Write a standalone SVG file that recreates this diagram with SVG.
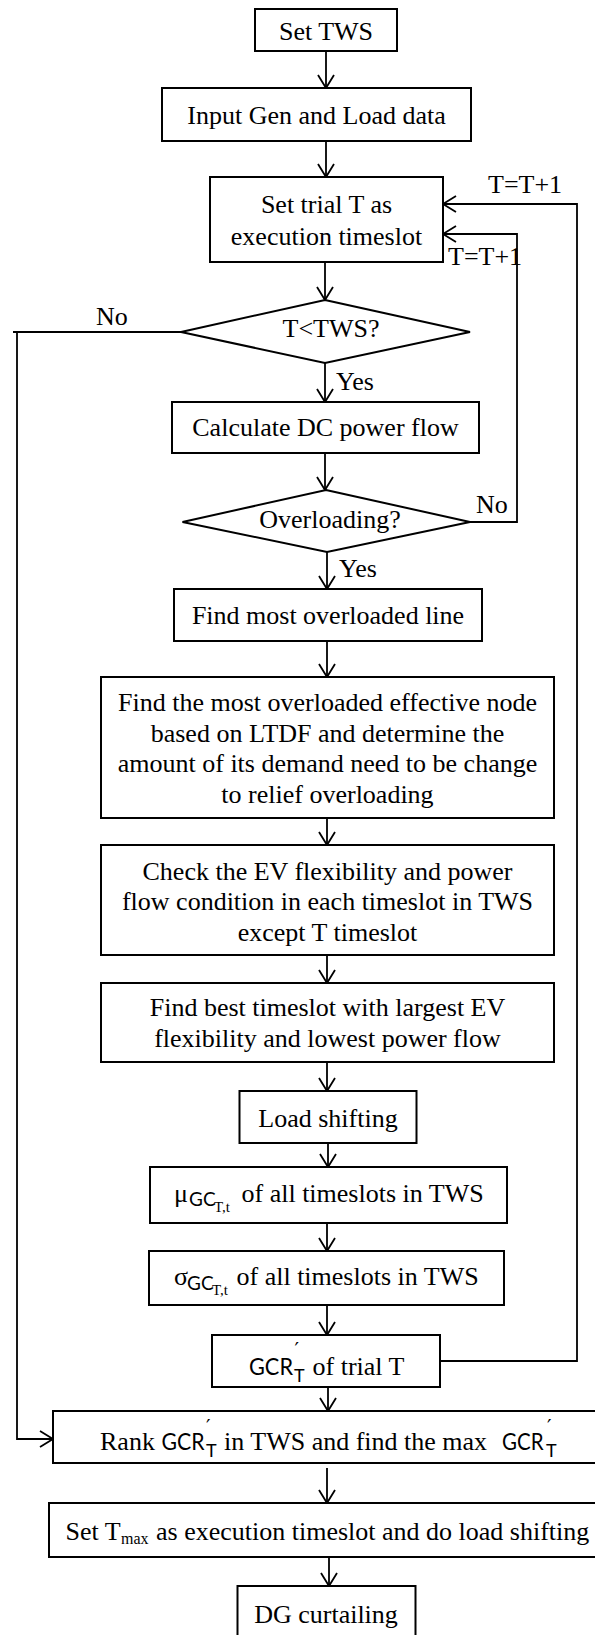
<svg xmlns="http://www.w3.org/2000/svg" width="595" height="1635" viewBox="0 0 595 1635">
<style>
.box{fill:#fff;stroke:#000;stroke-width:2}
.con{fill:none;stroke:#000;stroke-width:1.8}
.t{font-family:"Liberation Serif","Times New Roman",serif;font-size:26px;fill:#000}
.c{text-anchor:middle}
.s{font-family:Lato,"Open Sans","Liberation Sans",sans-serif;fill:#000}
.sm{font-family:"Liberation Serif","Times New Roman",serif;fill:#000}
.pr{font-family:"DejaVu Sans",sans-serif;font-size:20px;fill:#000}
</style>
<defs>
<marker id="arr" markerUnits="userSpaceOnUse" markerWidth="20" markerHeight="20" viewBox="-15 -10 17 20" refX="0" refY="0" orient="auto" overflow="visible">
<path d="M-13,-8 L0,0 L-13,8" fill="none" stroke="#000" stroke-width="1.8"/>
</marker>
</defs>
<rect x="0" y="0" width="595" height="1635" fill="#fff"/>

<g id="connectors">
<line class="con" x1="326" y1="51" x2="326" y2="88" marker-end="url(#arr)"/>
<line class="con" x1="326" y1="141" x2="326" y2="177" marker-end="url(#arr)"/>
<line class="con" x1="325" y1="262" x2="325" y2="300" marker-end="url(#arr)"/>
<line class="con" x1="325" y1="363" x2="325" y2="402" marker-end="url(#arr)"/>
<line class="con" x1="325" y1="453" x2="325" y2="490" marker-end="url(#arr)"/>
<line class="con" x1="327" y1="552" x2="327" y2="589" marker-end="url(#arr)"/>
<line class="con" x1="327" y1="641" x2="327" y2="677" marker-end="url(#arr)"/>
<line class="con" x1="327" y1="818" x2="327" y2="845" marker-end="url(#arr)"/>
<line class="con" x1="327" y1="955" x2="327" y2="983" marker-end="url(#arr)"/>
<line class="con" x1="327" y1="1062" x2="327" y2="1091" marker-end="url(#arr)"/>
<line class="con" x1="328" y1="1143" x2="328" y2="1167" marker-end="url(#arr)"/>
<line class="con" x1="327" y1="1223" x2="327" y2="1251" marker-end="url(#arr)"/>
<line class="con" x1="327" y1="1305" x2="327" y2="1335" marker-end="url(#arr)"/>
<line class="con" x1="328" y1="1387" x2="328" y2="1411" marker-end="url(#arr)"/>
<line class="con" x1="327" y1="1468" x2="327" y2="1503" marker-end="url(#arr)"/>
<line class="con" x1="329" y1="1557" x2="329" y2="1586" marker-end="url(#arr)"/>
<path class="con" d="M440,1361 H577 V204 H443" marker-end="url(#arr)"/>
<path class="con" d="M470,522 H517 V234 H443" marker-end="url(#arr)"/>
<path class="con" d="M181,332 H13"/>
<path class="con" d="M17,332 V1439 H53" marker-end="url(#arr)"/>
<text class="t" x="488" y="193">T=T+1</text>
<text class="t" x="448" y="265">T=T+1</text>
<text class="t" x="96" y="325">No</text>
<text class="t" x="476" y="513">No</text>
<text class="t" x="336" y="390">Yes</text>
<text class="t" x="339" y="577">Yes</text>
</g>

<g id="set-tws">
<rect class="box" x="255" y="9" width="142" height="42"/>
<text class="t c" x="326" y="40">Set TWS</text>
</g>
<g id="input-data">
<rect class="box" x="162" y="88" width="309" height="53"/>
<text class="t c" x="316.5" y="124">Input Gen and Load data</text>
</g>
<g id="set-trial">
<rect class="box" x="210" y="177" width="233" height="85"/>
<text class="t c" x="326.5" y="213">Set trial T as</text>
<text class="t c" x="326.5" y="245">execution timeslot</text>
</g>
<g id="t-lt-tws">
<polygon class="box" points="325,300 470,332 325,363 181,332"/>
<text class="t c" x="331" y="337">T&lt;TWS?</text>
</g>
<g id="calc-dc">
<rect class="box" x="172" y="402" width="307" height="51"/>
<text class="t c" x="325.5" y="436">Calculate DC power flow</text>
</g>
<g id="overloading">
<polygon class="box" points="326,490 470,522 327,552 182.5,522"/>
<text class="t c" x="330" y="528">Overloading?</text>
</g>
<g id="find-line">
<rect class="box" x="174" y="589" width="308" height="52"/>
<text class="t c" x="328" y="624">Find most overloaded line</text>
</g>
<g id="find-node">
<rect class="box" x="101" y="677" width="453" height="141"/>
<text class="t c" x="327.5" y="711">Find the most overloaded effective node</text>
<text class="t c" x="327.5" y="741.5">based on LTDF and determine the</text>
<text class="t c" x="327.5" y="772">amount of its demand need to be change</text>
<text class="t c" x="327.5" y="802.5">to relief overloading</text>
</g>
<g id="check-ev">
<rect class="box" x="101" y="845" width="453" height="110"/>
<text class="t c" x="327.5" y="879.5">Check the EV flexibility and power</text>
<text class="t c" x="327.5" y="910">flow condition in each timeslot in TWS</text>
<text class="t c" x="327.5" y="940.5">except T timeslot</text>
</g>
<g id="find-best">
<rect class="box" x="101" y="983" width="453" height="79"/>
<text class="t c" x="327.5" y="1016">Find best timeslot with largest EV</text>
<text class="t c" x="327.5" y="1046.5">flexibility and lowest power flow</text>
</g>
<g id="load-shifting">
<rect class="box" x="239.5" y="1091" width="177" height="52"/>
<text class="t c" x="328" y="1126.5">Load shifting</text>
</g>
<g id="mu">
<rect class="box" x="150" y="1167" width="357" height="56"/>
<text class="t" x="174" y="1201.5">μ</text>
<text class="s" x="189" y="1206" font-size="19">GC</text>
<text class="sm" x="214" y="1211.5" font-size="15">T,t</text>
<text class="t" x="241.5" y="1201.5">of all timeslots in TWS</text>
</g>
<g id="sigma">
<rect class="box" x="149" y="1251" width="355" height="54"/>
<text class="t" x="174" y="1285">σ</text>
<text class="s" x="187" y="1289.5" font-size="19">GC</text>
<text class="sm" x="212" y="1295" font-size="15">T,t</text>
<text class="t" x="236.5" y="1285">of all timeslots in TWS</text>
</g>
<g id="gcr-trial">
<rect class="box" x="212" y="1335" width="228" height="52"/>
<text class="s" x="249" y="1375" font-size="23" textLength="44" lengthAdjust="spacingAndGlyphs">GCR</text>
<text class="s" x="294" y="1382" font-size="18">T</text>
<text class="pr" x="294.5" y="1356">′</text>
<text class="t" x="312.5" y="1375">of trial T</text>
</g>
<g id="rank">
<rect class="box" x="53" y="1411" width="560" height="52"/>
<text class="t" x="100" y="1450">Rank</text>
<text class="s" x="161.5" y="1450" font-size="23" textLength="43" lengthAdjust="spacingAndGlyphs">GCR</text>
<text class="s" x="206" y="1457" font-size="18">T</text>
<text class="pr" x="206" y="1433">′</text>
<text class="t" x="224" y="1450">in TWS and find the max</text>
<text class="s" x="502" y="1450" font-size="23" textLength="41.5" lengthAdjust="spacingAndGlyphs">GCR</text>
<text class="s" x="546" y="1457" font-size="18">T</text>
<text class="pr" x="547" y="1433">′</text>
</g>
<g id="set-tmax">
<rect class="box" x="49" y="1503" width="564" height="54"/>
<text class="t" x="65.5" y="1540">Set T</text>
<text class="sm" x="121" y="1544" font-size="16">max</text>
<text class="t" x="156" y="1540">as execution timeslot and do load shifting</text>
</g>
<g id="dg-curtailing">
<rect class="box" x="237.5" y="1586" width="178" height="60"/>
<text class="t c" x="326" y="1623">DG curtailing</text>
</g>
</svg>
